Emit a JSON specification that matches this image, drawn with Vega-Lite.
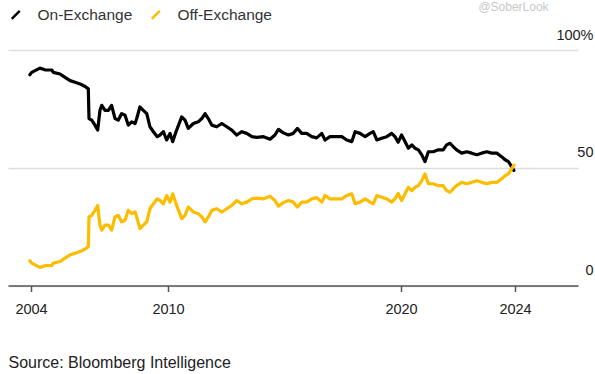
{
  "$schema": "https://vega.github.io/schema/vega-lite/v6.json",
  "autosize": "none",
  "width": 570,
  "height": 235.5,
  "padding": {"left": 8, "top": 50, "right": 17, "bottom": 88.5},
  "background": "white",
  "config": {
    "view": {"stroke": null},
    "font": "Liberation Sans"
  },
  "data": {
    "values": [
      {"t": 2003.95, "On-Exchange": 89.5, "Off-Exchange": 10.5},
      {"t": 2004.03, "On-Exchange": 90.5, "Off-Exchange": 9.5},
      {"t": 2004.39, "On-Exchange": 92.3, "Off-Exchange": 7.7},
      {"t": 2004.61, "On-Exchange": 91.6, "Off-Exchange": 8.4},
      {"t": 2004.91, "On-Exchange": 91.5, "Off-Exchange": 8.5},
      {"t": 2004.98, "On-Exchange": 90.5, "Off-Exchange": 9.5},
      {"t": 2005.27, "On-Exchange": 89.8, "Off-Exchange": 10.2},
      {"t": 2005.49, "On-Exchange": 88.4, "Off-Exchange": 11.6},
      {"t": 2005.71, "On-Exchange": 87.0, "Off-Exchange": 13.0},
      {"t": 2005.93, "On-Exchange": 86.3, "Off-Exchange": 13.7},
      {"t": 2006.15, "On-Exchange": 85.6, "Off-Exchange": 14.4},
      {"t": 2006.37, "On-Exchange": 84.5, "Off-Exchange": 15.5},
      {"t": 2006.51, "On-Exchange": 83.5, "Off-Exchange": 16.5},
      {"t": 2006.54, "On-Exchange": 70.9, "Off-Exchange": 29.1},
      {"t": 2006.66, "On-Exchange": 70.2, "Off-Exchange": 29.8},
      {"t": 2006.80, "On-Exchange": 68.1, "Off-Exchange": 31.9},
      {"t": 2006.92, "On-Exchange": 66.0, "Off-Exchange": 34.0},
      {"t": 2007.02, "On-Exchange": 74.4, "Off-Exchange": 25.6},
      {"t": 2007.10, "On-Exchange": 76.5, "Off-Exchange": 23.5},
      {"t": 2007.24, "On-Exchange": 74.4, "Off-Exchange": 25.6},
      {"t": 2007.39, "On-Exchange": 74.4, "Off-Exchange": 25.6},
      {"t": 2007.53, "On-Exchange": 76.5, "Off-Exchange": 23.5},
      {"t": 2007.68, "On-Exchange": 70.9, "Off-Exchange": 29.1},
      {"t": 2007.82, "On-Exchange": 70.2, "Off-Exchange": 29.8},
      {"t": 2007.97, "On-Exchange": 73.0, "Off-Exchange": 27.0},
      {"t": 2008.12, "On-Exchange": 72.3, "Off-Exchange": 27.7},
      {"t": 2008.26, "On-Exchange": 68.1, "Off-Exchange": 31.9},
      {"t": 2008.41, "On-Exchange": 69.5, "Off-Exchange": 30.5},
      {"t": 2008.56, "On-Exchange": 68.8, "Off-Exchange": 31.2},
      {"t": 2008.63, "On-Exchange": 70.9, "Off-Exchange": 29.1},
      {"t": 2008.77, "On-Exchange": 75.8, "Off-Exchange": 24.2},
      {"t": 2008.92, "On-Exchange": 74.4, "Off-Exchange": 25.6},
      {"t": 2009.07, "On-Exchange": 73.0, "Off-Exchange": 27.0},
      {"t": 2009.21, "On-Exchange": 67.4, "Off-Exchange": 32.6},
      {"t": 2009.36, "On-Exchange": 65.3, "Off-Exchange": 34.7},
      {"t": 2009.53, "On-Exchange": 63.2, "Off-Exchange": 36.8},
      {"t": 2009.65, "On-Exchange": 63.9, "Off-Exchange": 36.1},
      {"t": 2009.80, "On-Exchange": 65.3, "Off-Exchange": 34.7},
      {"t": 2009.94, "On-Exchange": 61.8, "Off-Exchange": 38.2},
      {"t": 2010.09, "On-Exchange": 64.6, "Off-Exchange": 35.4},
      {"t": 2010.20, "On-Exchange": 61.1, "Off-Exchange": 38.9},
      {"t": 2010.37, "On-Exchange": 66.0, "Off-Exchange": 34.0},
      {"t": 2010.59, "On-Exchange": 71.6, "Off-Exchange": 28.4},
      {"t": 2010.73, "On-Exchange": 70.2, "Off-Exchange": 29.8},
      {"t": 2010.87, "On-Exchange": 66.7, "Off-Exchange": 33.3},
      {"t": 2011.09, "On-Exchange": 68.8, "Off-Exchange": 31.2},
      {"t": 2011.30, "On-Exchange": 69.5, "Off-Exchange": 30.5},
      {"t": 2011.45, "On-Exchange": 70.9, "Off-Exchange": 29.1},
      {"t": 2011.59, "On-Exchange": 73.0, "Off-Exchange": 27.0},
      {"t": 2011.73, "On-Exchange": 70.9, "Off-Exchange": 29.1},
      {"t": 2011.88, "On-Exchange": 68.1, "Off-Exchange": 31.9},
      {"t": 2012.09, "On-Exchange": 67.4, "Off-Exchange": 32.6},
      {"t": 2012.31, "On-Exchange": 68.8, "Off-Exchange": 31.2},
      {"t": 2012.52, "On-Exchange": 67.4, "Off-Exchange": 32.6},
      {"t": 2012.74, "On-Exchange": 66.0, "Off-Exchange": 34.0},
      {"t": 2012.95, "On-Exchange": 63.9, "Off-Exchange": 36.1},
      {"t": 2013.17, "On-Exchange": 65.3, "Off-Exchange": 34.7},
      {"t": 2013.38, "On-Exchange": 64.6, "Off-Exchange": 35.4},
      {"t": 2013.60, "On-Exchange": 63.2, "Off-Exchange": 36.8},
      {"t": 2013.81, "On-Exchange": 62.9, "Off-Exchange": 37.1},
      {"t": 2014.10, "On-Exchange": 63.2, "Off-Exchange": 36.8},
      {"t": 2014.38, "On-Exchange": 62.1, "Off-Exchange": 37.9},
      {"t": 2014.59, "On-Exchange": 63.9, "Off-Exchange": 36.1},
      {"t": 2014.74, "On-Exchange": 66.3, "Off-Exchange": 33.7},
      {"t": 2014.95, "On-Exchange": 64.8, "Off-Exchange": 35.2},
      {"t": 2015.17, "On-Exchange": 63.9, "Off-Exchange": 36.1},
      {"t": 2015.38, "On-Exchange": 64.6, "Off-Exchange": 35.4},
      {"t": 2015.55, "On-Exchange": 66.7, "Off-Exchange": 33.3},
      {"t": 2015.74, "On-Exchange": 64.6, "Off-Exchange": 35.4},
      {"t": 2015.95, "On-Exchange": 64.6, "Off-Exchange": 35.4},
      {"t": 2016.17, "On-Exchange": 63.2, "Off-Exchange": 36.8},
      {"t": 2016.38, "On-Exchange": 62.7, "Off-Exchange": 37.3},
      {"t": 2016.60, "On-Exchange": 64.6, "Off-Exchange": 35.4},
      {"t": 2016.74, "On-Exchange": 61.8, "Off-Exchange": 38.2},
      {"t": 2016.95, "On-Exchange": 63.2, "Off-Exchange": 36.8},
      {"t": 2017.24, "On-Exchange": 63.2, "Off-Exchange": 36.8},
      {"t": 2017.46, "On-Exchange": 63.2, "Off-Exchange": 36.8},
      {"t": 2017.67, "On-Exchange": 61.8, "Off-Exchange": 38.2},
      {"t": 2017.89, "On-Exchange": 61.1, "Off-Exchange": 38.9},
      {"t": 2018.03, "On-Exchange": 65.3, "Off-Exchange": 34.7},
      {"t": 2018.24, "On-Exchange": 64.6, "Off-Exchange": 35.4},
      {"t": 2018.46, "On-Exchange": 63.2, "Off-Exchange": 36.8},
      {"t": 2018.67, "On-Exchange": 64.6, "Off-Exchange": 35.4},
      {"t": 2018.81, "On-Exchange": 65.3, "Off-Exchange": 34.7},
      {"t": 2018.96, "On-Exchange": 61.8, "Off-Exchange": 38.2},
      {"t": 2019.17, "On-Exchange": 62.5, "Off-Exchange": 37.5},
      {"t": 2019.39, "On-Exchange": 63.2, "Off-Exchange": 36.8},
      {"t": 2019.60, "On-Exchange": 64.6, "Off-Exchange": 35.4},
      {"t": 2019.74, "On-Exchange": 63.2, "Off-Exchange": 36.8},
      {"t": 2019.88, "On-Exchange": 60.9, "Off-Exchange": 39.1},
      {"t": 2020.02, "On-Exchange": 63.9, "Off-Exchange": 36.1},
      {"t": 2020.14, "On-Exchange": 61.1, "Off-Exchange": 38.9},
      {"t": 2020.26, "On-Exchange": 58.3, "Off-Exchange": 41.7},
      {"t": 2020.38, "On-Exchange": 59.7, "Off-Exchange": 40.3},
      {"t": 2020.49, "On-Exchange": 58.3, "Off-Exchange": 41.7},
      {"t": 2020.61, "On-Exchange": 57.6, "Off-Exchange": 42.4},
      {"t": 2020.73, "On-Exchange": 55.5, "Off-Exchange": 44.5},
      {"t": 2020.84, "On-Exchange": 52.6, "Off-Exchange": 47.4},
      {"t": 2020.96, "On-Exchange": 56.8, "Off-Exchange": 43.2},
      {"t": 2021.13, "On-Exchange": 56.8, "Off-Exchange": 43.2},
      {"t": 2021.31, "On-Exchange": 57.6, "Off-Exchange": 42.4},
      {"t": 2021.48, "On-Exchange": 57.6, "Off-Exchange": 42.4},
      {"t": 2021.60, "On-Exchange": 59.7, "Off-Exchange": 40.3},
      {"t": 2021.72, "On-Exchange": 60.4, "Off-Exchange": 39.6},
      {"t": 2021.84, "On-Exchange": 58.9, "Off-Exchange": 41.1},
      {"t": 2021.95, "On-Exchange": 57.6, "Off-Exchange": 42.4},
      {"t": 2022.13, "On-Exchange": 56.2, "Off-Exchange": 43.8},
      {"t": 2022.31, "On-Exchange": 56.8, "Off-Exchange": 43.2},
      {"t": 2022.48, "On-Exchange": 56.2, "Off-Exchange": 43.8},
      {"t": 2022.66, "On-Exchange": 55.5, "Off-Exchange": 44.5},
      {"t": 2022.83, "On-Exchange": 56.2, "Off-Exchange": 43.8},
      {"t": 2023.01, "On-Exchange": 56.8, "Off-Exchange": 43.2},
      {"t": 2023.18, "On-Exchange": 56.2, "Off-Exchange": 43.8},
      {"t": 2023.36, "On-Exchange": 56.2, "Off-Exchange": 43.8},
      {"t": 2023.53, "On-Exchange": 54.7, "Off-Exchange": 45.3},
      {"t": 2023.65, "On-Exchange": 53.4, "Off-Exchange": 46.6},
      {"t": 2023.77, "On-Exchange": 52.6, "Off-Exchange": 47.4},
      {"t": 2023.88, "On-Exchange": 50.5, "Off-Exchange": 49.5},
      {"t": 2023.96, "On-Exchange": 48.9, "Off-Exchange": 51.1}
    ]
  },
  "transform": [
    {"fold": ["On-Exchange", "Off-Exchange"], "as": ["series", "value"]}
  ],
  "mark": {"type": "line", "strokeWidth": 3.2, "strokeJoin": "round", "strokeCap": "round"},
  "encoding": {
    "x": {
      "field": "t",
      "type": "quantitative",
      "scale": {
        "domain": [2003.0, 2004, 2010, 2020, 2024, 2026.2],
        "range": [0, 23, 160, 393, 507, 570],
        "nice": false,
        "zero": false
      },
      "axis": {
        "values": [2004, 2010, 2020, 2024],
        "format": "d",
        "grid": false,
        "domainColor": "#555555",
        "domainWidth": 1.5,
        "tickColor": "#555555",
        "tickWidth": 1.5,
        "tickSize": 6,
        "labelPadding": 11,
        "labelFontSize": 14.5,
        "labelColor": "#222222",
        "labelFont": "Liberation Sans",
        "title": "Source: Bloomberg Intelligence",
        "titleFont": "Liberation Sans",
        "titleFontSize": 16,
        "titleFontWeight": "normal",
        "titleColor": "#222222",
        "titleAnchor": "start",
        "titleAlign": "left",
        "titleBaseline": "middle",
        "titleX": 0,
        "titleY": 76.5
      }
    },
    "y": {
      "field": "value",
      "type": "quantitative",
      "scale": {"domain": [0, 100], "nice": false},
      "axis": {
        "orient": "right",
        "values": [0, 50, 100],
        "labelExpr": "datum.value == 100 ? '100%' : datum.label + '\u00a0\u00a0\u00a0'",
        "domain": false,
        "ticks": false,
        "grid": true,
        "gridColor": "#dddddd",
        "gridWidth": 1.5,
        "labelAlign": "right",
        "labelBaseline": "alphabetic",
        "labelOffset": -11,
        "labelPadding": 15,
        "labelFontSize": 14.5,
        "labelColor": "#222222",
        "labelFont": "Liberation Sans",
        "title": "@SoberLook",
        "titleFont": "Liberation Sans",
        "titleFontSize": 12,
        "titleFontWeight": "normal",
        "titleColor": "#c8c8c8",
        "titleAngle": 0,
        "titleAlign": "center",
        "titleBaseline": "middle",
        "titleX": -65,
        "titleY": -44
      }
    },
    "color": {
      "field": "series",
      "type": "nominal",
      "scale": {"domain": ["On-Exchange", "Off-Exchange"], "range": ["#000000", "#fcbd00"]},
      "legend": {
        "title": null,
        "orient": "none",
        "direction": "horizontal",
        "legendX": 0,
        "legendY": -43,
        "padding": 0,
        "symbolType": "M-1,1L1,-1",
        "symbolSize": 64,
        "symbolStrokeWidth": 2.5,
        "labelOffset": 14,
        "columnPadding": 13,
        "labelFont": "Liberation Sans",
        "labelFontSize": 15.5,
        "labelColor": "#333333"
      }
    },
    "order": {"field": "series", "sort": "ascending"}
  }
}
